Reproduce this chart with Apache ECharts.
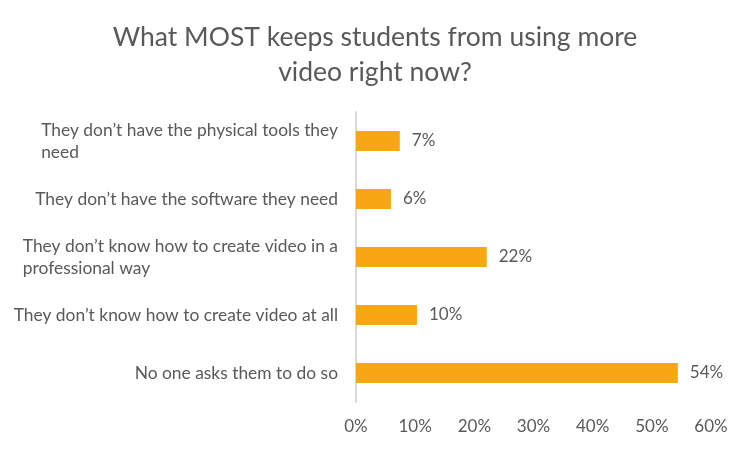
<!DOCTYPE html>
<html>
<head>
	<meta charset="UTF-8">
	<title>What MOST keeps students from using more video</title>
	<style type="text/css">
		html, body {
			margin: 0;
			padding: 0;
			background: #fff;
		}
		#chart {
			width: 750px;
			height: 449px;
		}
	</style>
</head>
<body>
	<div id="chart"></div>

	<script type="text/javascript" src="https://cdn.jsdelivr.net/npm/echarts@6/dist/echarts.min.js"></script>
	<script type="text/javascript">
		// categories, top to bottom as in the picture
		var categories = [
			'They don\u2019t have the physical tools they\nneed',
			'They don\u2019t have the software they need',
			'They don\u2019t know how to create video in a\nprofessional way',
			'They don\u2019t know how to create video at all',
			'No one asks them to do so'
		]
		// percent values
		var values = [7.4, 5.9, 22.1, 10.3, 54.4]
		var xTicks = [0, 10, 20, 30, 40, 50, 60]

		var chart = echarts.init(document.getElementById('chart'))
		var textColor = '#595959'
		var font = 'Lato'

		var option = {
			title: {
				text: 'What MOST keeps students from using more\nvideo right now?',
				left: 'center',
				top: 15,
				textStyle: {
					color: textColor,
					fontFamily: font,
					fontWeight: 'normal',
					fontSize: 26.5,
					lineHeight: 35
				}
			},
			grid: {
				left: 356,
				right: 39,
				top: 112,
				bottom: 47
			},
			xAxis: {
				type: 'value',
				min: xTicks[0],
				max: xTicks[xTicks.length - 1],
				interval: 10,
				axisLine: { show: false },
				axisTick: { show: false },
				splitLine: { show: false },
				axisLabel: {
					color: textColor,
					fontFamily: font,
					fontSize: 17,
					margin: 16,
					formatter: '{value}%'
				}
			},
			yAxis: {
				type: 'category',
				inverse: true,
				data: categories,
				axisLine: { lineStyle: { color: '#d9d9d9', width: 2 } },
				axisTick: { show: false },
				axisLabel: {
					margin: 18,
					align: 'right',
					// block sits right of the axis gap, wrapped lines start at the left
					formatter: function (v) {
						return v.split('\n').map(function (s) {
							return '{l|' + s + '}'
						}).join('\n')
					},
					rich: {
						l: {
							align: 'left',
							color: textColor,
							fontFamily: font,
							fontSize: 17.4,
							lineHeight: 22
						}
					}
				}
			},
			series: [
				{
					type: 'bar',
					data: values,
					barWidth: 20,
					itemStyle: { color: '#F7A614' },
					label: {
						show: true,
						position: 'right',
						distance: 12,
						color: textColor,
						fontFamily: font,
						fontSize: 17,
						formatter: function (p) {
							return Math.round(p.value) + '%'
						}
					}
				}
			]
		}

		chart.setOption(option)
	</script>
</body>
</html>
